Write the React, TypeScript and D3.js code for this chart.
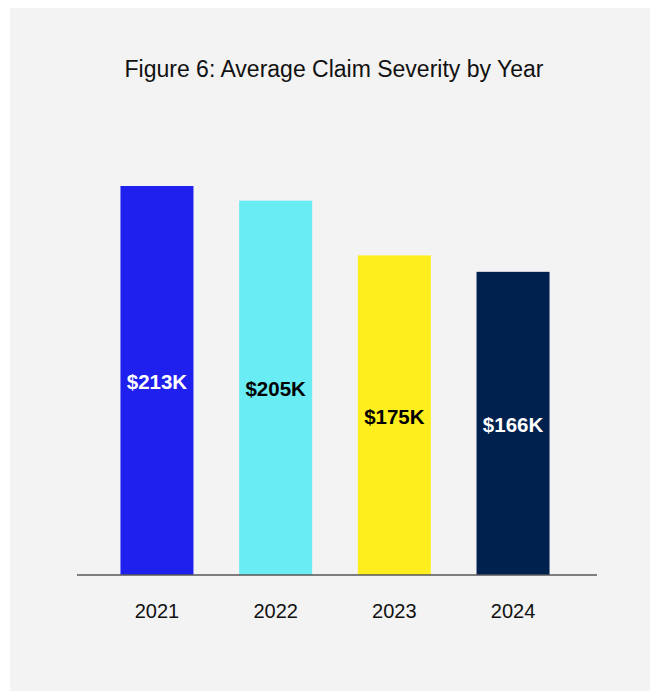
import React from "react";
import * as d3 from "d3";

const years = ["2021", "2022", "2023", "2024"];
const values = [213, 205, 175, 166];
const labels = ["$213K", "$205K", "$175K", "$166K"];
const barColors = ["#2020ee", "#69ecf3", "#ffee1e", "#00204e"];
const textColors = ["#ffffff", "#000000", "#000000", "#ffffff"];
const title = "Figure 6: Average Claim Severity by Year";

const W = 651;
const H = 691;
const baseY = 575;

export default function App() {
  const x = d3
    .scaleBand<string>()
    .domain(years)
    .range([75, 595])
    .paddingInner(0.385)
    .paddingOuter(0.383);
  const y = d3.scaleLinear().domain([0, 213]).range([baseY, 186]);
  const font = "'Liberation Sans', Arial, Helvetica, sans-serif";

  return (
    <svg
      width={W}
      height={H}
      style={{ position: "absolute", left: 0, top: 0, display: "block" }}
    >
      <rect x={0} y={0} width={W} height={H} fill="#ffffff" />
      <rect x={10} y={8} width={640} height={683} fill="#f3f3f3" />
      <text
        x={334}
        y={77}
        textAnchor="middle"
        fontFamily={font}
        fontSize={23}
        fill="#111111"
      >
        {title}
      </text>
      {years.map((yr, i) => {
        const bx = x(yr)!;
        const top = y(values[i]);
        const mid = (top + baseY) / 2;
        return (
          <g key={yr}>
            <rect
              x={bx}
              y={top}
              width={x.bandwidth()}
              height={baseY - top}
              fill={barColors[i]}
            />
            <text
              x={bx + x.bandwidth() / 2}
              y={mid + 8.5}
              textAnchor="middle"
              fontFamily={font}
              fontWeight="bold"
              fontSize={20.5}
              fill={textColors[i]}
            >
              {labels[i]}
            </text>
            <text
              x={bx + x.bandwidth() / 2}
              y={617.5}
              textAnchor="middle"
              fontFamily={font}
              fontSize={20}
              fill="#111111"
            >
              {yr}
            </text>
          </g>
        );
      })}
      <line
        x1={77}
        x2={597}
        y1={baseY}
        y2={baseY}
        stroke="#555555"
        strokeOpacity={0.75}
        strokeWidth={2}
      />
    </svg>
  );
}
